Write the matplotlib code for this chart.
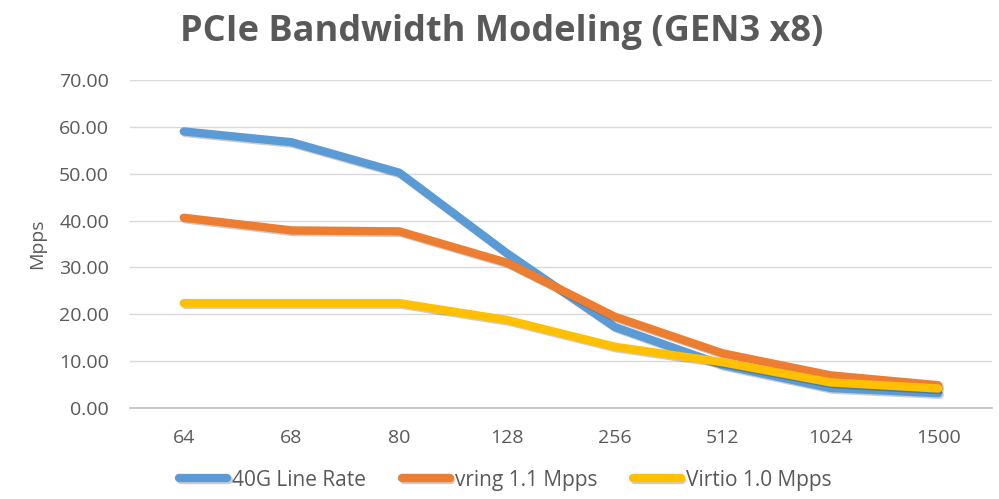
import matplotlib.pyplot as plt
import matplotlib.patheffects as pe

# Packet sizes (categories)
sizes = ['64', '68', '80', '128', '256', '512', '1024', '1500']

# Series values (Mpps)
line_rate_40g = [59.0, 56.7, 50.2, 33.0, 17.3, 9.2, 4.3, 3.2]
vring_11 = [40.6, 37.9, 37.7, 31.0, 19.5, 11.7, 7.0, 4.9]
virtio_10 = [22.4, 22.4, 22.4, 18.8, 13.1, 9.8, 5.5, 4.2]

yticks = [0, 10, 20, 30, 40, 50, 60, 70]

plt.rcParams['font.family'] = ['Open Sans', 'DejaVu Sans']

fig = plt.figure(figsize=(9.99, 4.99), dpi=100)
ax = fig.add_axes([0.130, 0.182, 0.863, 0.658])

x = range(len(sizes))
shadow = [pe.SimpleLineShadow(offset=(1.2, -1.2), alpha=0.2), pe.Normal()]

ax.plot(x, line_rate_40g, color='#5B9BD5', lw=6, label='40G Line Rate',
        solid_capstyle='round', solid_joinstyle='round', path_effects=shadow)
ax.plot(x, vring_11, color='#ED7D31', lw=6, label='vring 1.1 Mpps',
        solid_capstyle='round', solid_joinstyle='round', path_effects=shadow)
ax.plot(x, virtio_10, color='#FFC000', lw=6, label='Virtio 1.0 Mpps',
        solid_capstyle='round', solid_joinstyle='round', path_effects=shadow)

ax.set_xlim(-0.5, len(sizes) - 0.5)
ax.set_ylim(0, 70)
ax.set_yticks(yticks)
ax.set_yticklabels([f'{v:.2f}' for v in yticks])
ax.set_xticks(list(x))
ax.set_xticklabels(sizes)
ax.tick_params(axis='both', length=0, labelsize=14, labelcolor='#595959')
ax.tick_params(axis='y', pad=15)
ax.tick_params(axis='x', pad=15)

ax.grid(axis='y', color='#D9D9D9', lw=1)
ax.set_axisbelow(True)
for s in ['top', 'right', 'left']:
    ax.spines[s].set_visible(False)
ax.spines['bottom'].set_color('#BFBFBF')
ax.spines['bottom'].set_linewidth(1.2)

ax.set_ylabel('Mpps', fontsize=14, color='#595959', labelpad=9)

fig.text(0.502, 0.936, 'PCIe Bandwidth Modeling (GEN3 x8)', ha='center', va='center',
         fontsize=26, fontweight='bold', color='#595959')

leg = fig.legend(loc='center', bbox_to_anchor=(0.506, 0.038), ncol=3, frameon=False,
                 fontsize=15, handlelength=2.3, handletextpad=0.25, columnspacing=1.7,
                 labelcolor='#595959')

fig.savefig('out.png', dpi=100)
